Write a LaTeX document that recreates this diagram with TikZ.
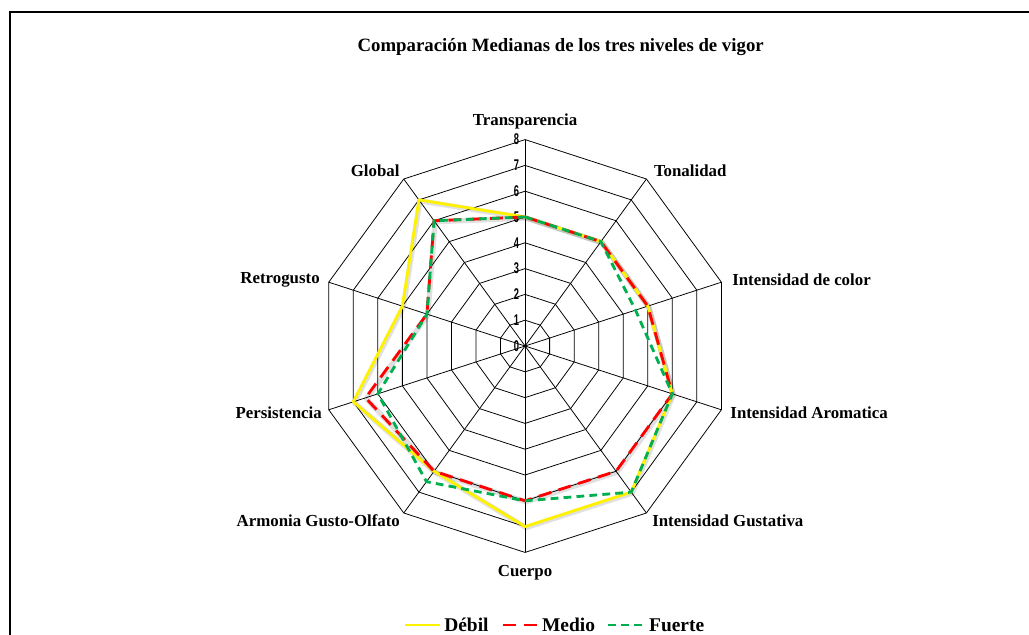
\documentclass[tikz,border=0pt]{standalone}
\usepackage{fontspec}
\setmainfont{Liberation Serif}
\newfontfamily\tickfont[FakeStretch=0.6]{Liberation Sans}
\usetikzlibrary{positioning}
\definecolor{vgreen}{RGB}{0,176,80}

\tikzset{
  axislabel/.style={font=\fontsize{13}{15}\selectfont\bfseries, inner sep=0pt},
  ticklabel/.style={font=\tickfont\fontsize{12}{13}\selectfont\bfseries, anchor=east, inner sep=0pt},
  gridline/.style={black, line width=0.6pt},
  shade/.style={black, opacity=0.12, line width=4pt, line join=round, shift={(0.04,-0.04)}},
  debil/.style={color=yellow, line width=2.2pt, line join=round},
  medio/.style={color=red, line width=2.2pt, dash pattern=on 10pt off 6pt},
  fuerte/.style={color=vgreen, line width=2.2pt, dash pattern=on 6pt off 4pt},
  legtext/.style={font=\fontsize{15}{17}\selectfont\bfseries, inner sep=0pt}
}

\begin{document}
\begin{tikzpicture}[x=0.7cm,y=0.7cm]
	\useasboundingbox (-20.35,-11.2) rectangle (19.53,13.41);
	\clip (-20.35,-11.2) rectangle (19.53,13.41);
	\draw[line width=2pt] (-19.96,-12) rectangle (21,12.95);
	\node[font=\fontsize{14.5}{16}\selectfont\bfseries] (title) at (1.38,11.59) {Comparación Medianas de los tres niveles de vigor};
	% rings and axes
	\foreach \r in {1,...,8}
		\draw[gridline] (90:\r) \foreach \a in {54,18,...,-234} {-- (\a:\r)} -- cycle;
	\foreach \a [count=\i] in {90,54,...,-234} {
		\coordinate (ax\i) at (\a:8);
		\draw[gridline] (0,0) -- (ax\i);
	}
	\foreach \v in {0,...,8}
		\node[ticklabel] (t\v) at (-0.22,\v) {\v};
	% soft shadow under the series
	\draw[shade] (90:5) -- (54:5) -- (18:5) -- (-18:6) -- (-54:7) -- (-90:7) -- (-126:6) -- (-162:7) -- (-198:5) -- (-234:7) -- cycle;
	\draw[shade] (90:5) -- (54:5) -- (18:5) -- (-18:6) -- (-54:6) -- (-90:6) -- (-126:6) -- (-162:6.5) -- (-198:4) -- (-234:6) -- cycle;
	% series
	\draw[debil] (90:5) -- (54:5) -- (18:5) -- (-18:6) -- (-54:7) -- (-90:7) -- (-126:6) -- (-162:7) -- (-198:5) -- (-234:7) -- cycle;
	\draw[medio] (90:5) -- (54:5) -- (18:5) -- (-18:6) -- (-54:6) -- (-90:6) -- (-126:6) -- (-162:6.5) -- (-198:4) -- (-234:6) -- cycle;
	\draw[fuerte] (90:5) -- (54:5) -- (18:4.5) -- (-18:6) -- (-54:7) -- (-90:6) -- (-126:6.5) -- (-162:6) -- (-198:4) -- (-234:6) -- cycle;
	% axis names
	\node[axislabel] (transp) at (0,8.72) {Transparencia};
	\node[axislabel] (tonal) at (6.40,6.78) {Tonalidad};
	\node[axislabel] (glob) at (-5.81,6.78) {Global};
	\node[axislabel,anchor=west] (intcol) at (8.02,2.56) {Intensidad de color};
	\node[axislabel,anchor=east] (retro) at (-7.95,2.56) {Retrogusto};
	\node[axislabel,anchor=west] (intaro) at (7.95,-2.60) {Intensidad Aromatica};
	\node[axislabel,anchor=east] (persis) at (-7.87,-2.60) {Persistencia};
	\node[axislabel,anchor=west] (intgus) at (4.92,-6.78) {Intensidad Gustativa};
	\node[axislabel,anchor=east] (armon) at (-4.84,-6.78) {Armonia Gusto-Olfato};
	\node[axislabel] (cuerpo) at (0,-8.80) {Cuerpo};
	% legend
	\coordinate (ldeb1) at (-4.65,-10.81);
	\coordinate (ldeb2) at (-3.29,-10.81);
	\draw[debil] (ldeb1) -- (ldeb2);
	\node[legtext,right=0.15 of ldeb2] (ldeb) {Débil};
	\coordinate (lmed1) at (-0.85,-10.81);
	\coordinate (lmed2) at (0.50,-10.81);
	\draw[medio] (lmed1) -- (lmed2);
	\node[legtext,right=0.15 of lmed2] (lmed) {Medio};
	\coordinate (lfue1) at (3.22,-10.81);
	\coordinate (lfue2) at (4.65,-10.81);
	\draw[fuerte] (lfue1) -- (lfue2);
	\node[legtext,right=0.15 of lfue2] (lfue) {Fuerte};
\end{tikzpicture}
\end{document}
